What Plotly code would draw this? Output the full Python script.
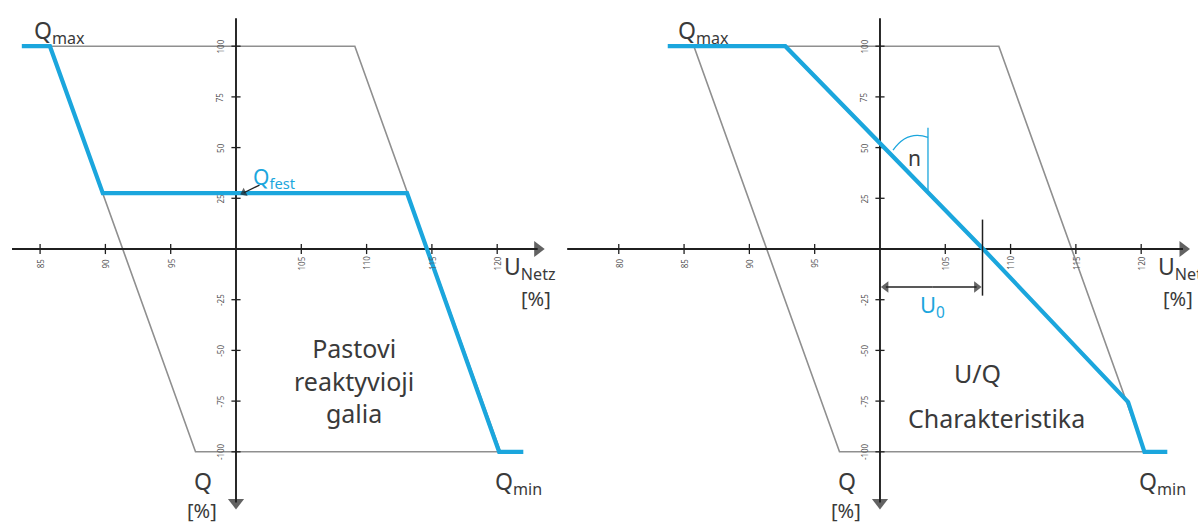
import plotly.graph_objects as go
from plotly.subplots import make_subplots

# Grid voltage ticks (tick units from the origin) and their labels
u_ticks_left = [-3, -2, -1, 1, 2, 3, 4]
u_labels_left = ["85", "90", "95", "105", "110", "115", "120"]
u_ticks_right = [-4, -3, -2, -1, 1, 2, 3, 4]
u_labels_right = ["80", "85", "90", "95", "105", "110", "115", "120"]

# Reactive power ticks
q_ticks = [4, 3, 2, 1, -1, -2, -3, -4]
q_labels = ["100", "75", "50", "25", "-25", "-50", "-75", "-100"]

# Operating range (parallelogram) shared by both panels
band_u = [-2.85, 1.82, 4.05, -0.62, -2.85]
band_q = [4, 4, -4, -4, 4]

# Constant reactive power characteristic
fixed_u = [-3.28, -2.85, -2.04, 2.62, 4.03, 4.4]
fixed_q = [4, 4, 1.1, 1.1, -4, -4]

# U/Q droop characteristic
droop_u = [-3.25, -1.45, 1.58, 3.8, 4.05, 4.4]
droop_q = [4, 4, 0, -3.02, -4, -4]

BLUE = "#1ba6dd"
GREY = "#8f8f8f"
INK = "#3a3a3a"
AXIS = "#1f1f1f"
FONT = "Noto Sans"

fig = make_subplots(rows=1, cols=2, horizontal_spacing=0)


def arrow_line(col, xs, ys, color, width, head=14):
    """Polyline whose last point carries a triangular head along the path."""
    sizes = [1] * (len(xs) - 1) + [head]
    fig.add_trace(go.Scatter(
        x=xs, y=ys, mode="lines+markers",
        line=dict(color=color, width=width),
        marker=dict(symbol="triangle-up", size=sizes, color=color,
                    angleref="previous", line=dict(width=0)),
        hoverinfo="skip", cliponaxis=False), row=1, col=col)


def label(col, x, y, text, size=23, color=INK, **kw):
    xref = "x" if col == 1 else "x2"
    yref = "y" if col == 1 else "y2"
    fig.add_annotation(x=x, y=y, xref=xref, yref=yref, text=text,
                       showarrow=False,
                       font=dict(size=size, color=color, family=FONT), **kw)


def panel(col, u_ticks, u_labels, u_left, u_right, curve_u, curve_q,
          unetz_x, pct_x):
    # range parallelogram
    fig.add_trace(go.Scatter(x=band_u, y=band_q, mode="lines",
                             line=dict(color=GREY, width=1.6),
                             hoverinfo="skip"), row=1, col=col)
    # axes crossing at the origin, with arrow heads
    arrow_line(col, [u_left, u_right], [0, 0], AXIS, 1.9)
    arrow_line(col, [0, 0], [4.55, -5.0], AXIS, 1.9)
    # tick marks
    tx, ty = [], []
    for t in u_ticks:
        tx += [t, t, None]
        ty += [0.1, -0.1, None]
    for t in q_ticks:
        tx += [-0.07, 0.07, None]
        ty += [t, t, None]
    fig.add_trace(go.Scatter(x=tx, y=ty, mode="lines",
                             line=dict(color=AXIS, width=1.3),
                             hoverinfo="skip"), row=1, col=col)
    # characteristic curve
    fig.add_trace(go.Scatter(x=curve_u, y=curve_q, mode="lines",
                             line=dict(color=BLUE, width=4.2),
                             hoverinfo="skip"), row=1, col=col)
    # tick labels
    for t, lab in zip(u_ticks, u_labels):
        label(col, t, -0.28, lab, size=8, color="#555555", textangle=-90)
    for t, lab in zip(q_ticks, q_labels):
        label(col, -0.24, t, lab, size=8, color="#555555", textangle=-90)
    # axis names and limits
    label(col, -3.12, 4.28, "Q<sub>max</sub>", xanchor="left")
    label(col, 3.93, -4.6, "Q<sub>min</sub>", xanchor="left")
    label(col, -0.5, -4.58, "Q")
    label(col, -0.52, -5.16, "[%]", size=20)
    label(col, unetz_x, -0.36, "U<sub>Netz</sub>", xanchor="left")
    label(col, pct_x, -0.98, "[%]", size=20, xanchor="left")


panel(1, u_ticks_left, u_labels_left, -3.43, 4.62, fixed_u, fixed_q,
      4.07, 4.33)
panel(2, u_ticks_right, u_labels_right, -4.79, 4.64, droop_u, droop_q,
      4.22, 4.31)

# left panel: fixed Q label with pointer
arrow_line(1, [0.36, 0.12], [1.26, 1.11], "#222", 1.3, head=8)
label(1, 0.23, 1.4, "Q<sub>fest</sub>", size=21, color=BLUE, xanchor="left")
label(1, 1.81, -2.6, "Pastovi<br>reaktyvioji<br>galia", size=25,
      align="center")

# right panel: droop slope marker and U0 offset
fig.add_trace(go.Scatter(x=[0.735, 0.735], y=[2.39, 1.16], mode="lines",
                         line=dict(color=BLUE, width=1.3), hoverinfo="skip"),
              row=1, col=2)
fig.add_shape(type="path", xref="x2", yref="y2",
              path="M 0.2,1.95 Q 0.42,2.35 0.735,2.2",
              line=dict(color=BLUE, width=1.3))
label(2, 0.53, 1.8, "n", size=21)
fig.add_trace(go.Scatter(x=[1.57, 1.57], y=[0.58, -0.92], mode="lines",
                         line=dict(color=AXIS, width=1.5), hoverinfo="skip"),
              row=1, col=2)
arrow_line(2, [0.8, 1.48], [-0.75, -0.75], "#222", 1.3, head=10)
arrow_line(2, [0.8, 0.09], [-0.75, -0.75], "#222", 1.3, head=10)
label(2, 0.8, -1.12, "U<sub>0</sub>", size=22, color=BLUE)
label(2, 1.49, -2.45, "U/Q", size=25)
label(2, 1.78, -3.33, "Charakteristika", size=25)

fig.update_xaxes(visible=False, fixedrange=True)
fig.update_yaxes(visible=False, fixedrange=True, range=[-5.424, 4.911])
fig.update_layout(
    width=1198, height=524,
    margin=dict(l=0, r=0, t=0, b=0),
    paper_bgcolor="white", plot_bgcolor="rgba(0,0,0,0)",
    showlegend=False,
    xaxis=dict(domain=[0, 0.5], range=[-3.614, 5.559]),
    xaxis2=dict(domain=[0.45, 1], range=[-5.220, 4.870]),
)

fig.write_html("out.html")
